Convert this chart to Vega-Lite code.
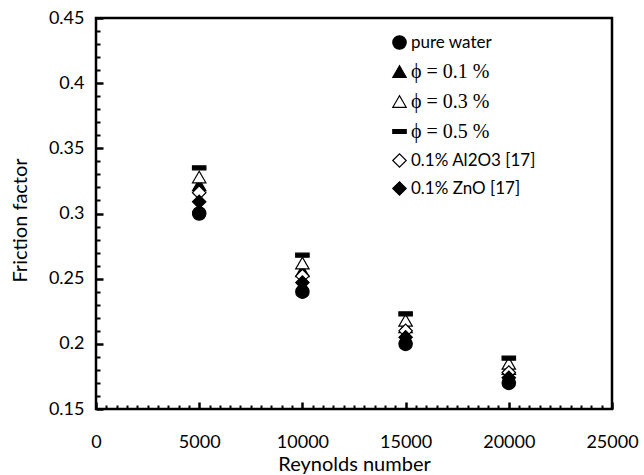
{
  "$schema": "https://vega.github.io/schema/vega-lite/v6.json",
  "width": 516,
  "height": 391,
  "autosize": "none",
  "padding": {"left": 96, "top": 18, "right": 32, "bottom": 66},
  "background": "white",
  "config": {
    "view": {"stroke": "black", "strokeWidth": 2.5},
    "font": "Lato",
    "axis": {"grid": false, "domain": false, "labelColor": "black", "titleColor": "black", "tickColor": "black"}
  },
  "data": {
    "values": [
      {"Re": 5000, "f": 0.300, "series": "pure water"},
      {"Re": 10000, "f": 0.240, "series": "pure water"},
      {"Re": 15000, "f": 0.200, "series": "pure water"},
      {"Re": 20000, "f": 0.170, "series": "pure water"},
      {"Re": 5000, "f": 0.322, "series": "ϕ = 0.1 %"},
      {"Re": 10000, "f": 0.256, "series": "ϕ = 0.1 %"},
      {"Re": 15000, "f": 0.213, "series": "ϕ = 0.1 %"},
      {"Re": 20000, "f": 0.181, "series": "ϕ = 0.1 %"},
      {"Re": 5000, "f": 0.328, "series": "ϕ = 0.3 %"},
      {"Re": 10000, "f": 0.262, "series": "ϕ = 0.3 %"},
      {"Re": 15000, "f": 0.218, "series": "ϕ = 0.3 %"},
      {"Re": 20000, "f": 0.185, "series": "ϕ = 0.3 %"},
      {"Re": 5000, "f": 0.335, "series": "ϕ = 0.5 %"},
      {"Re": 10000, "f": 0.268, "series": "ϕ = 0.5 %"},
      {"Re": 15000, "f": 0.223, "series": "ϕ = 0.5 %"},
      {"Re": 20000, "f": 0.189, "series": "ϕ = 0.5 %"},
      {"Re": 5000, "f": 0.316, "series": "0.1% Al2O3 [17]"},
      {"Re": 10000, "f": 0.252, "series": "0.1% Al2O3 [17]"},
      {"Re": 15000, "f": 0.210, "series": "0.1% Al2O3 [17]"},
      {"Re": 20000, "f": 0.178, "series": "0.1% Al2O3 [17]"},
      {"Re": 5000, "f": 0.309, "series": "0.1% ZnO [17]"},
      {"Re": 10000, "f": 0.247, "series": "0.1% ZnO [17]"},
      {"Re": 15000, "f": 0.205, "series": "0.1% ZnO [17]"},
      {"Re": 20000, "f": 0.174, "series": "0.1% ZnO [17]"}
    ]
  },
  "layer": [
    {
      "mark": {"type": "point", "filled": true, "stroke": "black", "strokeWidth": 1.2, "size": 180, "opacity": 1},
      "encoding": {
        "x": {
          "field": "Re", "type": "quantitative",
          "scale": {"domain": [0, 25000], "nice": false, "zero": false},
          "axis": {
            "orient": "bottom", "values": [0, 5000, 10000, 15000, 20000, 25000], "format": "d",
            "ticks": false, "labelPadding": 24, "labelFontSize": 18, "labelFlush": false, "labelOverlap": false,
            "title": "Reynolds number", "titleFontSize": 20, "titleFontWeight": "normal",
            "titleBaseline": "middle", "titleY": 55
          }
        },
        "y": {
          "field": "f", "type": "quantitative",
          "scale": {"domain": [0.15, 0.45], "nice": false, "zero": false},
          "axis": {
            "orient": "left", "values": [0.15, 0.2, 0.25, 0.3, 0.35, 0.4, 0.45], "format": "~g",
            "ticks": false, "labelPadding": 12, "labelFontSize": 18, "labelFlush": false, "labelOverlap": false,
            "title": "Friction factor", "titleFontSize": 20, "titleFontWeight": "normal",
            "titleAngle": 270, "titleBaseline": "middle", "titleAlign": "center", "titleX": -76, "titleY": 202
          }
        },
        "shape": {
          "field": "series", "type": "nominal",
          "scale": {
            "domain": ["pure water", "ϕ = 0.1 %", "ϕ = 0.3 %", "ϕ = 0.5 %", "0.1% Al2O3 [17]", "0.1% ZnO [17]"],
            "range": ["circle", "triangle-up", "triangle-up", "M-1,-0.3H1V0.3H-1Z", "diamond", "diamond"]
          },
          "legend": {
            "title": null, "orient": "none", "legendX": 296, "legendY": 17, "padding": 0,
            "labelFontSize": 17, "labelColor": "black", "symbolSize": 180,
            "rowPadding": 9, "labelOffset": 4,
            "encoding": {
              "symbols": {
                "fill": {"condition": {"test": "datum.value === 'ϕ = 0.3 %' || datum.value === '0.1% Al2O3 [17]'", "value": "white"}, "value": "black"},
                "stroke": {"value": "black"},
                "strokeWidth": {"value": 1.2},
                "opacity": {"value": 1}
              },
              "labels": {
                "font": {"condition": {"test": "indexof(datum.value, '=') >= 0", "value": "Liberation Serif"}, "value": "Lato"},
                "fontSize": {"condition": {"test": "indexof(datum.value, '=') >= 0", "value": 20}, "value": 17}
              }
            }
          }
        },
        "fill": {
          "field": "series", "type": "nominal",
          "scale": {
            "domain": ["pure water", "ϕ = 0.1 %", "ϕ = 0.3 %", "ϕ = 0.5 %", "0.1% Al2O3 [17]", "0.1% ZnO [17]"],
            "range": ["black", "black", "white", "black", "white", "black"]
          },
          "legend": null
        }
      }
    },
    {
      "mark": {"type": "point", "opacity": 0},
      "encoding": {
        "x": {
          "field": "Re", "type": "quantitative",
          "axis": {"orient": "bottom", "values": [0, 5000, 10000, 15000, 20000, 25000], "labels": false, "title": null, "tickSize": -7, "tickWidth": 2.5}
        },
        "y": {
          "field": "f", "type": "quantitative",
          "axis": {"orient": "left", "values": [0.15, 0.2, 0.25, 0.3, 0.35, 0.4, 0.45], "labels": false, "title": null, "tickSize": -7, "tickWidth": 2.5}
        }
      }
    },
    {
      "mark": {"type": "point", "opacity": 0},
      "encoding": {
        "x": {
          "field": "Re", "type": "quantitative",
          "axis": {"orient": "bottom", "values": [500, 1000, 1500, 2000, 2500, 3000, 3500, 4000, 4500, 5500, 6000, 6500, 7000, 7500, 8000, 8500, 9000, 9500, 10500, 11000, 11500, 12000, 12500, 13000, 13500, 14000, 14500, 15500, 16000, 16500, 17000, 17500, 18000, 18500, 19000, 19500, 20500, 21000, 21500, 22000, 22500, 23000, 23500, 24000, 24500], "labels": false, "title": null, "tickSize": -4, "tickWidth": 2}
        },
        "y": {
          "field": "f", "type": "quantitative",
          "axis": {"orient": "left", "values": [0.16, 0.17, 0.18, 0.19, 0.21, 0.22, 0.23, 0.24, 0.26, 0.27, 0.28, 0.29, 0.31, 0.32, 0.33, 0.34, 0.36, 0.37, 0.38, 0.39, 0.41, 0.42, 0.43, 0.44], "labels": false, "title": null, "tickSize": -4, "tickWidth": 2}
        }
      }
    }
  ],
  "resolve": {"axis": {"x": "independent", "y": "independent"}}
}
